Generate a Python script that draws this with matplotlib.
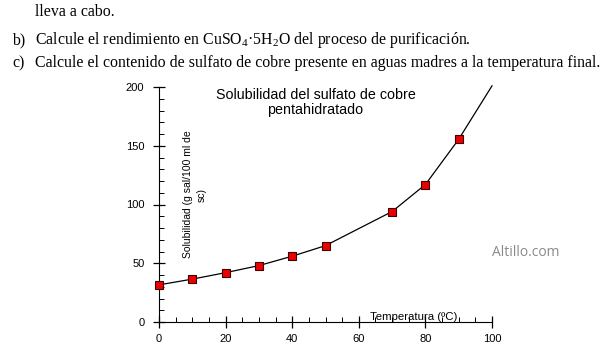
import matplotlib.pyplot as plt
from matplotlib.ticker import MultipleLocator

plt.rcParams['font.family'] = ['Liberation Sans', 'DejaVu Sans']
plt.rcParams['mathtext.fontset'] = 'custom'
plt.rcParams['mathtext.rm'] = 'Liberation Serif'
plt.rcParams['mathtext.it'] = 'Liberation Serif'

# datos de solubilidad
temperatura = [0, 10, 20, 30, 40, 50, 70, 80, 90]
solubilidad = [31.6, 36.5, 42, 48, 56, 65, 94, 117, 155.5]
# la curva sigue hasta 100 ºC sin marcador
linea_t = temperatura + [100]
linea_s = solubilidad + [201]

x_ticks = [0, 20, 40, 60, 80, 100]
y_ticks = [0, 50, 100, 150, 200]

W, H = 608, 358
fig = plt.figure(figsize=(W / 100, H / 100), dpi=100)

# enunciado encima de la grafica
serif = ['Liberation Serif', 'DejaVu Serif']
fs = 11.4
fig.text(35 / W, 1 - 16 / H, "lleva a cabo.", family=serif, fontsize=fs, va='baseline')
fig.text(12 / W, 1 - 44 / H, "b)", family=serif, fontsize=fs, va='baseline')
fig.text(35 / W, 1 - 44 / H, "Calcule el rendimiento en CuSO$_4$·5H$_2$O del proceso de purificación.",
         family=serif, fontsize=fs, va='baseline')
fig.text(12 / W, 1 - 67 / H, "c)", family=serif, fontsize=fs, va='baseline')
fig.text(35 / W, 1 - 67 / H,
         "Calcule el contenido de sulfato de cobre presente en aguas madres a la temperatura final.",
         family=serif, fontsize=fs, va='baseline')

ax = fig.add_axes([159 / W, 1 - 322 / H, (492 - 159) / W, (322 - 87) / H])
ax.plot(linea_t, linea_s, color='black', lw=0.9, clip_on=False, zorder=2)
ax.plot(temperatura, solubilidad, ls='none', marker='s', ms=5.6, mfc='#ee0000',
        mec='#3a0000', mew=0.8, clip_on=False, zorder=3)

ax.set_xlim(0, 100)
ax.set_ylim(0, 200)
ax.spines['top'].set_visible(False)
ax.spines['right'].set_visible(False)
ax.set_xticks(x_ticks)
ax.set_yticks(y_ticks)
ax.xaxis.set_minor_locator(MultipleLocator(5))
ax.yaxis.set_minor_locator(MultipleLocator(10))
ax.tick_params(which='major', direction='inout', length=8, width=0.9, labelsize=8, pad=5)
ax.tick_params(axis='y', which='major', pad=6.5)
ax.tick_params(which='minor', direction='in', length=3.5, width=0.7)

ax.text(47, 199.5, "Solubilidad del sulfato de cobre\npentahidratado", ha='center', va='top',
        fontsize=10.3, linespacing=1.15)
ax.text(10.8, 108.5, "Solubilidad (g sal/100 ml de\nsc)", rotation=90, ha='center', va='center',
        fontsize=7.5, linespacing=1.4)
ax.text(76.6, 1.5, "Temperatura (ºC)", ha='center', va='baseline', fontsize=8.2)

fig.text(526 / W, 1 - 252 / H, "Altillo.com", color='#8a8a8a', fontsize=10, ha='center', va='center',
         family=['Open Sans', 'DejaVu Sans'])

fig.savefig("out.png", dpi=100)
